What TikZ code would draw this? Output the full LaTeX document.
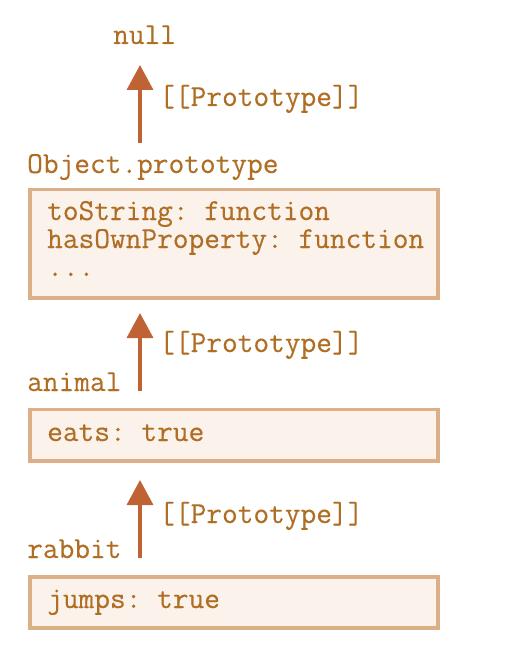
\documentclass[tikz,border=0pt]{standalone}
\usepackage{fontspec}
\setmonofont{Latin Modern Mono}[FakeBold=0.3]
\usetikzlibrary{arrows.meta}
\definecolor{txt}{HTML}{AF6E24}
\definecolor{boxfill}{HTML}{FBF2EC}
\definecolor{boxline}{HTML}{DBAF88}
\definecolor{arr}{HTML}{C06334}
\tikzset{
  lbl/.style={anchor=base west, inner sep=0pt, text=txt, font=\ttfamily\fontsize{30.5}{32}\selectfont},
  objbox/.style={draw=boxline, fill=boxfill, line width=3.5pt, anchor=north west, inner sep=0pt, minimum width=408pt},
  protoarrow/.style={draw=arr, line width=3.5pt, -{Triangle[length=25pt,width=26pt]}}
}
\begin{document}
\begin{tikzpicture}[x=1pt,y=-1pt]
\useasboundingbox (0,0) rectangle (510,668);
% boxes
\node[objbox, minimum height=108pt] (objproto) at (28,188) {};
\node[objbox, minimum height=51.5pt] (animalbox) at (28,407.5) {};
\node[objbox, minimum height=51pt] (rabbitbox) at (28,575) {};
% titles
\node[lbl] (null) at (113,44) {null};
\node[lbl] (objlabel) at (27,173) {Object.prototype};
\node[lbl] (animallabel) at (27,391) {animal};
\node[lbl] (rabbitlabel) at (27,558) {rabbit};
% contents
\node[lbl] (tostr) at (47,220) {toString: function};
\node[lbl] (hasown) at (47,248) {hasOwnProperty: function};
\node[lbl] (dots) at (47,276) {...};
\node[lbl] (eats) at (47,441) {eats: true};
\node[lbl] (jumps) at (47,608) {jumps: true};
% arrow labels
\node[lbl] (p1) at (159,106) {[[Prototype]]};
\node[lbl] (p2) at (159,352) {[[Prototype]]};
\node[lbl] (p3) at (159,523) {[[Prototype]]};
% arrow ends
\coordinate (a1s) at (140,143);
\coordinate (a1e) at (140,65);
\coordinate (a2s) at (140,391);
\coordinate (a2e) at (140,313);
\coordinate (a3s) at (140,558);
\coordinate (a3e) at (140,480);
\draw[protoarrow] (a1s) -- (a1e);
\draw[protoarrow] (a2s) -- (a2e);
\draw[protoarrow] (a3s) -- (a3e);
\end{tikzpicture}
\end{document}
